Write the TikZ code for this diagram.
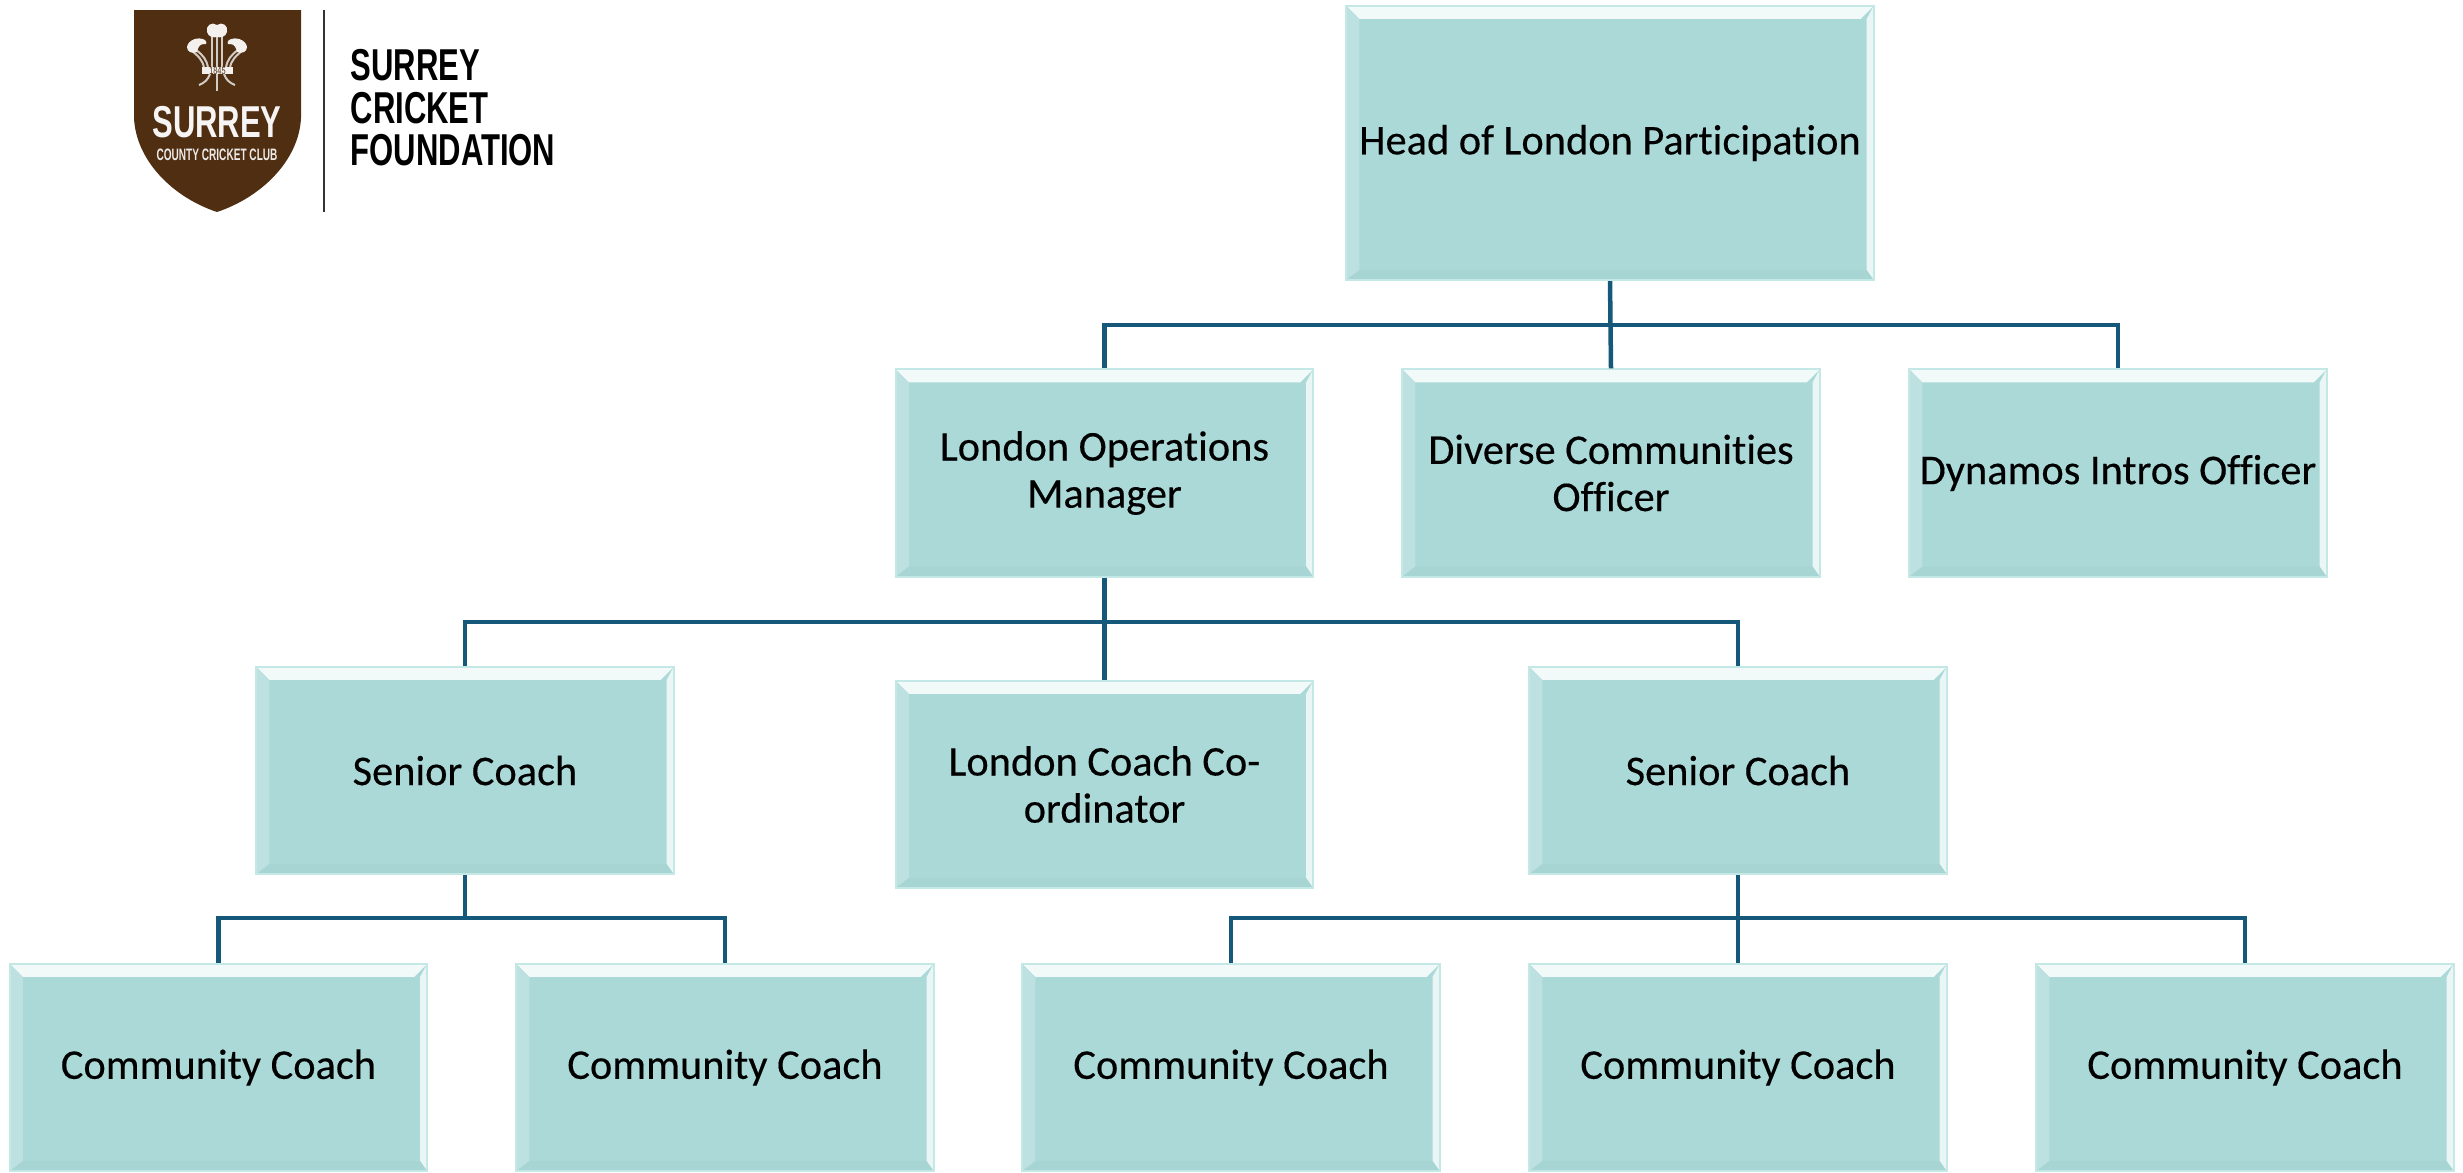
\documentclass[tikz,border=0pt]{standalone}
\usepackage{fontspec}
\setmainfont[Ligatures=NoCommon,FakeBold=0.3]{Carlito}
\newfontfamily\logofont[FakeStretch=0.695]{Liberation Sans}
\newfontfamily\logosmall[FakeStretch=0.61]{Liberation Sans}
\usetikzlibrary{calc}
\definecolor{boxfill}{HTML}{AAD9D8}
\definecolor{boxedge}{HTML}{C4E8E6}
\definecolor{linkblue}{HTML}{15587A}
\definecolor{logobrown}{HTML}{4F2E12}
\tikzset{
	orgbox/.style={fill=boxfill, draw=boxedge, line width=0.02cm, inner sep=0pt, minimum width=4.17cm, minimum height=2.07cm, align=center, font=\fontsize{12.05}{13.4}\selectfont,
		path picture={
			\coordinate (nw) at (path picture bounding box.north west);
			\coordinate (ne) at (path picture bounding box.north east);
			\coordinate (sw) at (path picture bounding box.south west);
			\coordinate (se) at (path picture bounding box.south east);
			\fill[white!85!boxfill] (nw) -- (ne) -- ($(ne)+(-0.13cm,-0.13cm)$) -- ($(nw)+(0.13cm,-0.13cm)$) -- cycle;
			\fill[white!22!boxfill] (nw) -- (sw) -- ($(sw)+(0.13cm,0.1cm)$) -- ($(nw)+(0.13cm,-0.13cm)$) -- cycle;
			\fill[white!75!boxfill] (ne) -- (se) -- ($(se)+(-0.07cm,0.1cm)$) -- ($(ne)+(-0.07cm,-0.13cm)$) -- cycle;
			\fill[black!2!boxfill] (sw) -- (se) -- ($(se)+(-0.07cm,0.1cm)$) -- ($(sw)+(0.13cm,0.1cm)$) -- cycle;
		}},
	headbox/.style={orgbox, minimum width=5.27cm, minimum height=2.74cm},
	orglink/.style={draw=linkblue, line width=0.045cm},
	plume/.style={fill=white!93!logobrown, draw=none},
	stem/.style={draw=white!75!logobrown, line width=0.02cm},
	logotext/.style={inner sep=0pt, anchor=base west, text=black}
}

\begin{document}
\begin{tikzpicture}[x=0.01cm, y=-0.01cm]
	\useasboundingbox (0, 0) rectangle (2463, 1172);

	% logo
	\fill[logobrown] (134, 10) -- (301, 10) -- (301, 118) .. controls (299, 160) and (262, 197) .. (217, 212) .. controls (172, 197) and (136, 160) .. (134, 118) -- cycle;
	\draw[stem] (217, 36) -- (217, 91);
	\draw[stem] (212, 36) -- (212, 68);
	\draw[stem] (222, 36) -- (222, 68);
	\draw[stem] (196, 50) .. controls (203, 55) and (207, 60) .. (208, 68);
	\draw[stem] (191, 50) .. controls (198, 56) and (203, 60) .. (204, 68);
	\draw[stem] (238, 50) .. controls (231, 55) and (227, 60) .. (226, 68);
	\draw[stem] (243, 50) .. controls (236, 56) and (231, 60) .. (230, 68);
	\draw[stem] (210, 74) .. controls (208, 80) and (204, 83) .. (199, 85);
	\draw[stem] (224, 74) .. controls (226, 80) and (230, 83) .. (235, 85);
	\fill[plume] (217, 25) .. controls (212, 21) and (205, 26) .. (207, 32) .. controls (208, 37) and (214, 38) .. (217, 37) .. controls (220, 38) and (226, 37) .. (227, 32) .. controls (229, 26) and (222, 21) .. (217, 25) -- cycle;
	\fill[plume] (187, 47) .. controls (188, 40) and (198, 36) .. (205, 40) .. controls (207, 42) and (207, 45) .. (204, 44) .. controls (199, 44) and (198, 48) .. (197, 52) .. controls (192, 54) and (187, 52) .. (187, 47) -- cycle;
	\fill[plume] (247, 47) .. controls (246, 40) and (236, 36) .. (229, 40) .. controls (227, 42) and (227, 45) .. (230, 44) .. controls (235, 44) and (236, 48) .. (237, 52) .. controls (242, 54) and (247, 52) .. (247, 47) -- cycle;
	\fill[plume] (202, 67) rectangle (233, 74);
	\node[inner sep=0pt, text=logobrown, font=\logofont\fontsize{3}{3}\selectfont] (logoyear) at (217.5, 70.5) {1845};
	\node[inner sep=0pt, anchor=base, text=white!95!logobrown, font=\logofont\bfseries\fontsize{12.7}{12.7}\selectfont] (logoname) at (217, 137) {SURREY};
	\node[inner sep=0pt, anchor=base, text=white!90!logobrown, font=\logosmall\bfseries\fontsize{4.7}{4.7}\selectfont] (logoclub) at (217, 160) {COUNTY CRICKET CLUB};

	\draw[black!80, line width=0.015cm] (324, 10) -- (324, 212);
	\node[logotext, font=\logofont\bfseries\fontsize{12.7}{12.7}\selectfont] (logoa) at (350, 80) {SURREY};
	\node[logotext, font=\logofont\bfseries\fontsize{12.7}{12.7}\selectfont] (logob) at (350, 123) {CRICKET};
	\node[logotext, font=\logofont\bfseries\fontsize{12.7}{12.7}\selectfont] (logoc) at (350, 165) {FOUNDATION};

	% boxes
	\node[headbox] (head) at (1610, 143) {Head of London Participation};

	\node[orgbox] (ops) at (1104.5, 473) {London Operations\\Manager};
	\node[orgbox] (diverse) at (1611, 473) {Diverse Communities\\Officer};
	\node[orgbox] (dynamos) at (2118, 473) {Dynamos Intros Officer};

	\node[orgbox] (seniora) at (465, 770.5) {Senior Coach};
	\node[orgbox] (coord) at (1104.5, 784.5) {London Coach Co-\\ordinator};
	\node[orgbox] (seniorb) at (1738, 770.5) {Senior Coach};

	\node[orgbox] (comma) at (218.5, 1067.5) {Community Coach};
	\node[orgbox] (commb) at (725, 1067.5) {Community Coach};
	\node[orgbox] (commc) at (1231, 1067.5) {Community Coach};
	\node[orgbox] (commd) at (1738, 1067.5) {Community Coach};
	\node[orgbox] (comme) at (2245, 1067.5) {Community Coach};

	% connectors
	\coordinate (busa) at (0, 325);
	\coordinate (busb) at (0, 622);
	\coordinate (busc) at (0, 918);

	\draw[orglink] (head.south) -- (diverse.north);
	\draw[orglink] (ops.north) |- (busa -| dynamos.north) -- (dynamos.north);

	\draw[orglink] (ops.south) -- (coord.north);
	\draw[orglink] (seniora.north) |- (busb -| seniorb.north) -- (seniorb.north);

	\draw[orglink] (seniora.south) -- (seniora.south |- busc);
	\draw[orglink] (comma.north) |- (busc -| commb.north) -- (commb.north);

	\draw[orglink] (seniorb.south) -- (commd.north);
	\draw[orglink] (commc.north) |- (busc -| comme.north) -- (comme.north);
\end{tikzpicture}
\end{document}
